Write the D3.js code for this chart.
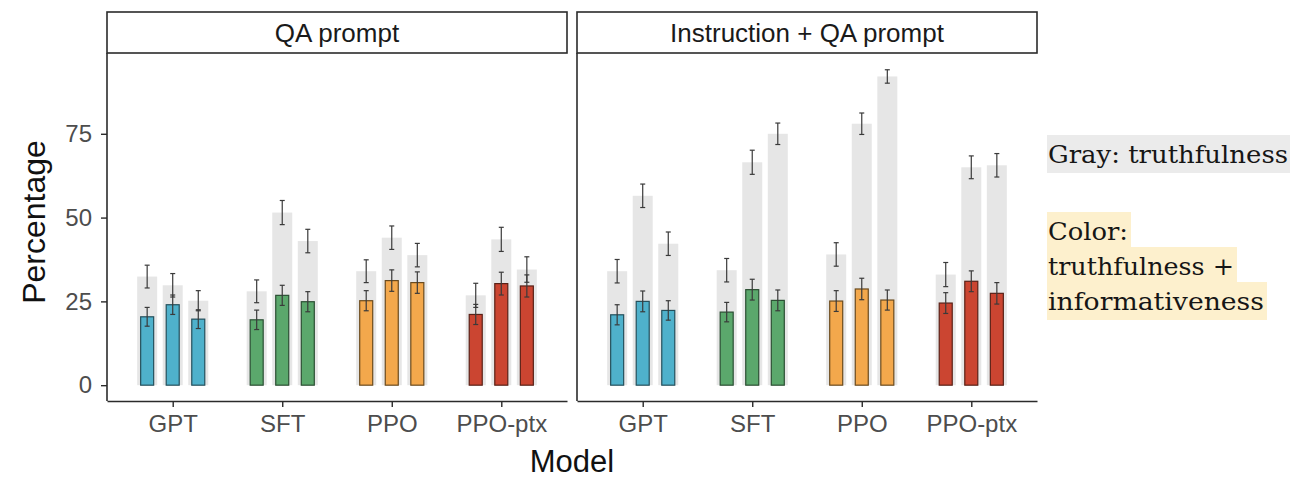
<!DOCTYPE html>
<html>
<head>
<meta charset="utf-8">
<script src="https://cdn.jsdelivr.net/npm/d3@7"></script>
<style>
  body { margin: 0; background: #fff; }
  svg { display: block; }
  .tick-label { font-family: 'Liberation Sans', Arial, sans-serif; fill: #4d4d4d; }
  .axis-title { font-family: 'Liberation Sans', Arial, sans-serif; fill: #111; }
  .strip-label { font-family: 'Liberation Sans', Arial, sans-serif; fill: #1a1a1a; }
  .legend-text { font-family: 'DejaVu Serif', 'Liberation Serif', serif; fill: #161616; }
</style>
</head>
<body>
<div id="viz"></div>
<script>
const WIDTH = 1294, HEIGHT = 480;

const prompts = ['QA prompt', 'Instruction + QA prompt'];
const models = ['GPT', 'SFT', 'PPO', 'PPO-ptx'];
const sizes = ['1.3B', '6B', '175B'];
const yTicks = [0, 25, 50, 75];

const modelColors = ['#4fb1cb', '#5ba86c', '#f3a84c', '#cb4531'];
const modelStrokes = ['#24505c', '#2b4f33', '#6b4b1e', '#5a2117'];

// gray bars: truthfulness (per model, per size)
const truthQA = [[32.4, 29.8, 25.2], [28.0, 51.5, 43.0], [34.0, 44.0, 38.8], [26.8, 43.5, 34.5]];
const truthQAErr = [[3.4, 3.5, 3.0], [3.4, 3.6, 3.5], [3.4, 3.5, 3.5], [3.6, 3.6, 3.8]];
const truthInstr = [[34.0, 56.5, 42.2], [34.3, 66.5, 75.0], [39.0, 78.0, 92.1], [33.0, 65.0, 65.6]];
const truthInstrErr = [[3.5, 3.5, 3.5], [3.5, 3.6, 3.2], [3.5, 3.2, 2.0], [3.6, 3.4, 3.5]];

// colored bars: truthfulness + informativeness
const infoQA = [[20.4, 24.0, 19.7], [19.5, 26.8, 24.9], [25.2, 31.2, 30.6], [21.1, 30.3, 29.6]];
const infoQAErr = [[2.8, 2.9, 2.8], [2.9, 3.0, 3.0], [3.0, 3.2, 3.2], [3.0, 3.4, 3.3]];
const infoInstr = [[21.0, 25.0, 22.3], [21.8, 28.5, 25.3], [25.1, 28.7, 25.4], [24.5, 31.0, 27.4]];
const infoInstrErr = [[3.0, 3.1, 2.9], [2.9, 3.1, 3.1], [3.1, 3.2, 3.0], [3.1, 3.1, 3.2]];

const truthAll = [truthQA, truthInstr];
const truthErrAll = [truthQAErr, truthInstrErr];
const infoAll = [infoQA, infoInstr];
const infoErrAll = [infoQAErr, infoInstrErr];

const legendGray = ['Gray: truthfulness'];
const legendColor = ['Color:', 'truthfulness +', 'informativeness'];

// layout
const PANEL_LEFT = [107, 577];
const PANEL_W = 460;
const STRIP_TOP = 12, PANEL_TOP = 53, PANEL_BOTTOM = 401;
const LINE = '#2b2b2b';

const svg = d3.select('#viz').append('svg')
  .attr('width', WIDTH)
  .attr('height', HEIGHT);

const yScale = d3.scaleLinear()
  .domain([-4.72, 99.1])
  .range([PANEL_BOTTOM, PANEL_TOP]);

const xScale = d3.scalePoint()
  .domain(models)
  .range([0, PANEL_W])
  .padding(0.6);

const step = xScale.step();
const dodge = d3.scaleBand()
  .domain(sizes)
  .range([-0.35 * step, 0.35 * step]);

const GRAY_W = 20, COLOR_W = 13, CAP = 2.5;

function flatten(vals, errs) {
  const out = [];
  models.forEach((m, i) => {
    sizes.forEach((s, j) => {
      out.push({ model: m, mi: i, size: s, value: vals[i][j], err: errs[i][j] });
    });
  });
  return out;
}

function xPos(d) { return xScale(d.model) + dodge(d.size) + dodge.bandwidth() / 2; }

function drawErr(g, data) {
  const e = g.selectAll(null).data(data).enter().append('g')
    .attr('stroke', '#3a3a3a')
    .attr('stroke-width', 1.2);
  e.append('line')
    .attr('x1', xPos).attr('x2', xPos)
    .attr('y1', d => yScale(d.value + d.err))
    .attr('y2', d => yScale(d.value - d.err));
  e.append('line')
    .attr('x1', d => xPos(d) - CAP).attr('x2', d => xPos(d) + CAP)
    .attr('y1', d => yScale(d.value + d.err)).attr('y2', d => yScale(d.value + d.err));
  e.append('line')
    .attr('x1', d => xPos(d) - CAP).attr('x2', d => xPos(d) + CAP)
    .attr('y1', d => yScale(d.value - d.err)).attr('y2', d => yScale(d.value - d.err));
}

prompts.forEach((p, pi) => {
  const panel = svg.append('g')
    .attr('class', 'panel')
    .attr('transform', 'translate(' + PANEL_LEFT[pi] + ',0)');

  // strip
  panel.append('rect')
    .attr('x', 0).attr('y', STRIP_TOP)
    .attr('width', PANEL_W).attr('height', PANEL_TOP - STRIP_TOP)
    .attr('fill', '#fff')
    .attr('stroke', LINE).attr('stroke-width', 1.6);
  panel.append('text')
    .attr('class', 'strip-label')
    .attr('x', PANEL_W / 2).attr('y', (STRIP_TOP + PANEL_TOP) / 2)
    .attr('dy', '0.36em')
    .attr('text-anchor', 'middle')
    .attr('font-size', 26)
    .text(p);

  const truth = flatten(truthAll[pi], truthErrAll[pi]);
  const info = flatten(infoAll[pi], infoErrAll[pi]);

  // gray bars
  panel.append('g').selectAll('rect').data(truth).enter().append('rect')
    .attr('x', d => xPos(d) - GRAY_W / 2)
    .attr('width', GRAY_W)
    .attr('y', d => yScale(d.value))
    .attr('height', d => yScale(0) - yScale(d.value))
    .attr('fill', '#e6e6e6');
  drawErr(panel.append('g'), truth);

  // colored bars
  panel.append('g').selectAll('rect').data(info).enter().append('rect')
    .attr('x', d => xPos(d) - COLOR_W / 2)
    .attr('width', COLOR_W)
    .attr('y', d => yScale(d.value))
    .attr('height', d => yScale(0) - yScale(d.value))
    .attr('fill', d => modelColors[d.mi])
    .attr('stroke', d => modelStrokes[d.mi])
    .attr('stroke-width', 1.2);
  drawErr(panel.append('g'), info);

  // axes
  const xAxis = panel.append('g')
    .attr('transform', 'translate(0,' + PANEL_BOTTOM + ')')
    .call(d3.axisBottom(xScale).tickSize(6).tickSizeOuter(0).tickPadding(8));
  xAxis.attr('font-family', null).attr('font-size', null);
  xAxis.select('.domain').attr('stroke', LINE).attr('stroke-width', 1.6);
  xAxis.selectAll('.tick line').attr('stroke', LINE).attr('stroke-width', 1.4);
  xAxis.selectAll('.tick text')
    .attr('class', 'tick-label')
    .attr('font-size', 24)
    .attr('fill', '#4d4d4d');

  const yAxis = panel.append('g')
    .call(d3.axisLeft(yScale).tickValues(yTicks).tickSize(6).tickSizeOuter(0).tickPadding(9));
  yAxis.attr('font-family', null).attr('font-size', null);
  yAxis.select('.domain')
    .attr('d', 'M0,' + PANEL_TOP + 'V' + PANEL_BOTTOM)
    .attr('stroke', LINE).attr('stroke-width', 1.6);
  yAxis.selectAll('.tick line').attr('stroke', LINE).attr('stroke-width', 1.4);
  yAxis.selectAll('.tick text')
    .attr('class', 'tick-label')
    .attr('font-size', 24)
    .attr('fill', '#4d4d4d');
  if (pi === 1) yAxis.selectAll('.tick').remove();
});

// axis titles
svg.append('text')
  .attr('class', 'axis-title')
  .attr('transform', 'translate(45,222) rotate(-90)')
  .attr('text-anchor', 'middle')
  .attr('font-size', 32)
  .text('Percentage');

svg.append('text')
  .attr('class', 'axis-title')
  .attr('x', (PANEL_LEFT[0] + PANEL_LEFT[1] + PANEL_W) / 2)
  .attr('y', 472)
  .attr('text-anchor', 'middle')
  .attr('font-size', 31)
  .text('Model');

// legend (highlighted text notes)
const LEG_X = 1047;
const legend = svg.append('g').attr('class', 'legend');

legend.append('rect')
  .attr('x', LEG_X).attr('y', 135)
  .attr('width', 243).attr('height', 38)
  .attr('fill', '#ebebeb');
legend.selectAll('text.gray').data(legendGray).enter().append('text')
  .attr('class', 'legend-text gray')
  .attr('x', LEG_X + 1).attr('y', 163)
  .attr('font-size', 25)
  .attr('textLength', 240)
  .attr('lengthAdjust', 'spacingAndGlyphs')
  .text(d => d);

const colorWidths = [80, 186, 216];
legend.selectAll('rect.color').data(legendColor).enter().append('rect')
  .attr('class', 'color')
  .attr('x', LEG_X)
  .attr('y', (d, i) => 212 + i * 35)
  .attr('width', (d, i) => colorWidths[i] + 4)
  .attr('height', (d, i) => i === 2 ? 38 : 36)
  .attr('fill', '#fdf0cd');
legend.selectAll('text.color').data(legendColor).enter().append('text')
  .attr('class', 'legend-text color')
  .attr('x', LEG_X + 1)
  .attr('y', (d, i) => 240 + i * 35)
  .attr('font-size', 25)
  .attr('textLength', (d, i) => colorWidths[i])
  .attr('lengthAdjust', 'spacingAndGlyphs')
  .text(d => d);
</script>
</body>
</html>
